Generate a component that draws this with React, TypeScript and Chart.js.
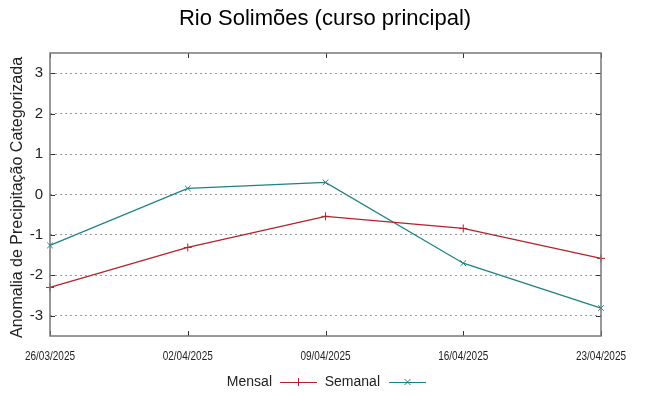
import React, { useEffect, useRef } from "react";
import { Chart, registerables } from "chart.js";

Chart.register(...registerables);

const title = "Rio Solimões (curso principal)";
const yTitle = "Anomalia de Precipitação Categorizada";
const categories = ["26/03/2025", "02/04/2025", "09/04/2025", "16/04/2025", "23/04/2025"];
const mensal = [-2.3, -1.31, -0.54, -0.84, -1.58];
const semanal = [-1.26, 0.15, 0.3, -1.7, -2.81];
const seriesNames = ["Mensal", "Semanal"];
const seriesColors = ["#b3232b", "#1f8282"];
const yTicks = [-3, -2, -1, 0, 1, 2, 3];

const FONT = "'Liberation Sans', Arial, sans-serif";

const framePlugin = {
  id: "frame",
  afterDraw(chart: any) {
    const { ctx, chartArea: a, scales } = chart;
    const ys = scales.y;
    const xs = scales.x;
    ctx.save();
    // ticks inward
    ctx.strokeStyle = "#333";
    ctx.lineWidth = 1;
    ctx.beginPath();
    yTicks.forEach((v) => {
      const py = Math.round(ys.getPixelForValue(v)) + 0.5;
      ctx.moveTo(a.left, py);
      ctx.lineTo(a.left + 5, py);
      ctx.moveTo(a.right, py);
      ctx.lineTo(a.right - 5, py);
    });
    categories.forEach((_, i) => {
      const px = Math.round(xs.getPixelForValue(i)) + 0.5;
      ctx.moveTo(px, a.bottom);
      ctx.lineTo(px, a.bottom - 5);
      ctx.moveTo(px, a.top);
      ctx.lineTo(px, a.top + 5);
    });
    ctx.stroke();
    // border
    ctx.strokeStyle = "#777";
    ctx.lineWidth = 1.5;
    ctx.strokeRect(a.left, a.top, a.right - a.left, a.bottom - a.top);
    // x labels (condensed)
    ctx.fillStyle = "#222";
    ctx.font = "13px " + FONT;
    ctx.textAlign = "center";
    ctx.textBaseline = "middle";
    categories.forEach((c, i) => {
      const px = xs.getPixelForValue(i);
      ctx.save();
      ctx.translate(px, 356);
      ctx.scale(0.77, 1);
      ctx.fillText(c, 0, 0);
      ctx.restore();
    });
    // title
    ctx.fillStyle = "#000";
    ctx.font = "22px " + FONT;
    ctx.textAlign = "center";
    ctx.textBaseline = "middle";
    ctx.fillText(title, 325, 19);
    // y title
    ctx.save();
    ctx.translate(18, (a.top + a.bottom) / 2 + 3);
    ctx.rotate(-Math.PI / 2);
    ctx.font = "16px " + FONT;
    ctx.fillStyle = "#222";
    ctx.fillText(yTitle, 0, 0);
    ctx.restore();
    // legend
    ctx.font = "14px " + FONT;
    ctx.textAlign = "right";
    const ly = 382;
    const entries = [
      { textRight: 272, x0: 280, x1: 317, style: "+" },
      { textRight: 380, x0: 389, x1: 426, style: "x" },
    ];
    entries.forEach((e, i) => {
      ctx.fillStyle = "#222";
      ctx.fillText(seriesNames[i], e.textRight, ly);
      ctx.strokeStyle = seriesColors[i];
      ctx.lineWidth = 1;
      ctx.beginPath();
      ctx.moveTo(e.x0, ly + 0.5);
      ctx.lineTo(e.x1, ly + 0.5);
      const cx = (e.x0 + e.x1) / 2;
      if (e.style === "+") {
        ctx.moveTo(cx, ly - 4);
        ctx.lineTo(cx, ly + 4);
      } else {
        ctx.moveTo(cx - 3, ly - 3);
        ctx.lineTo(cx + 3, ly + 3);
        ctx.moveTo(cx + 3, ly - 3);
        ctx.lineTo(cx - 3, ly + 3);
      }
      ctx.stroke();
    });
    ctx.restore();
  },
};

export default function App() {
  const ref = useRef<HTMLCanvasElement>(null);
  useEffect(() => {
    document.body.style.margin = "0";
    const chart = new Chart(ref.current!, {
      type: "line",
      data: {
        labels: categories,
        datasets: [
          {
            label: seriesNames[0],
            data: mensal,
            borderColor: seriesColors[0],
            backgroundColor: seriesColors[0],
            borderWidth: 1.3,
            pointStyle: "cross",
            pointRadius: 4,
            pointBorderWidth: 1,
            tension: 0,
          },
          {
            label: seriesNames[1],
            data: semanal,
            borderColor: seriesColors[1],
            backgroundColor: seriesColors[1],
            borderWidth: 1.3,
            pointStyle: "crossRot",
            pointRadius: 4,
            pointBorderWidth: 1,
            tension: 0,
          },
        ],
      },
      options: {
        animation: false,
        responsive: false,
        layout: { autoPadding: false, padding: { top: 53, right: 48, left: 0, bottom: 0 } },
        plugins: { legend: { display: false }, title: { display: false }, tooltip: { enabled: false } },
        scales: {
          x: {
            type: "category",
            offset: false,
            border: { display: false },
            grid: { display: false, drawTicks: false },
            ticks: { display: false },
            afterFit: (s: any) => {
              s.height = 60;
            },
          },
          y: {
            min: -3.5,
            max: 3.5,
            border: { display: false, dash: [2, 3] },
            grid: {
              color: "#999",
              lineWidth: 1,
              drawTicks: false,
            },
            afterBuildTicks: (s: any) => {
              s.ticks = yTicks.map((v) => ({ value: v }));
            },
            ticks: {
              padding: 7,
              color: "#222",
              font: { family: FONT, size: 15 },
              callback: (v: any) => String(v),
            },
            afterFit: (s: any) => {
              s.width = 50;
            },
          },
        },
      },
      plugins: [framePlugin],
    } as any);
    return () => chart.destroy();
  }, []);
  return (
    <div style={{ position: "absolute", left: 0, top: 0, width: 649, height: 396, background: "#fff" }}>
      <canvas ref={ref} width={649} height={396} />
    </div>
  );
}
